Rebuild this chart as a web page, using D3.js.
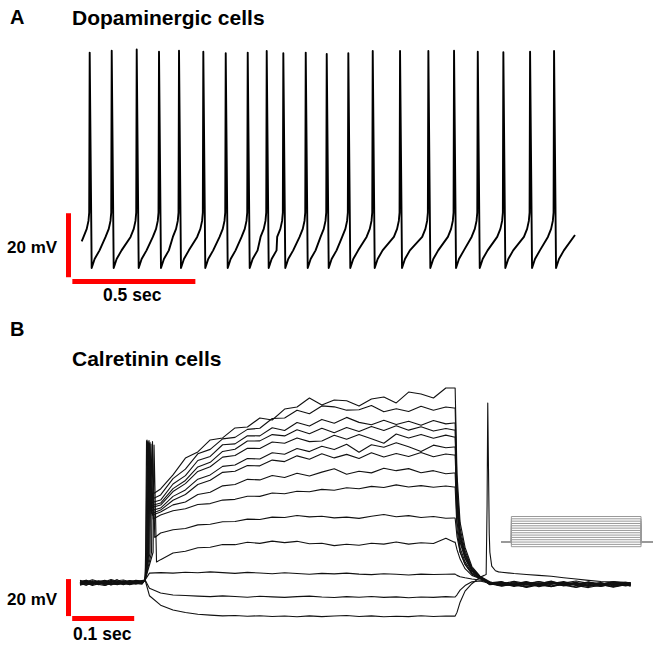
<!DOCTYPE html>
<html>
<head>
<meta charset="utf-8">
<script src="https://cdn.jsdelivr.net/npm/d3@7"></script>
<style>
  body { margin: 0; background: #fff; }
  svg { display: block; }
  text { font-family: "Liberation Sans", Arial, sans-serif; font-weight: bold; fill: #000; }
</style>
</head>
<body>
<svg id="fig" width="661" height="648"></svg>
<script>
// ---------- panel A: dopaminergic cell, spontaneous firing ----------
const spikeTimesA = [32.5, 122.0, 223.6, 314.2, 395.5, 494.3, 585.4, 674.8, 752.0, 819.5, 910.6,
  995.9, 1083.7, 1182.9, 1293.9, 1409.0, 1513.4, 1609.8, 1713.8, 1822.4, 1919.9];   // ms
const spikePeaksA = [2.0, 2.6, 3.0, 2.3, 2.6, 2.3, 1.8, 2.0, 2.5, 1.8, 2.0,
  1.6, 1.8, 2.5, 2.5, 2.5, 2.6, 2.3, 2.1, 2.3, 2.5];                                // mV
// waveform, relative to each spike peak (ms, mV)
const afterSpikeA = [[8, -65.3], [20, -62.5], [40, -59.8]];
const beforeSpikeA = [[-25, -55.6], [-12, -53.1], [-5, -50.6], [-2, -48.0]];
const traceStartA = [0, -57.0];
const traceEndA = [2005, -55.0];

// ---------- panel B: calretinin cell, current steps ----------
const preTimes = [0, 10, 20, 30, 40, 50, 60, 70, 80, 90, 100];
const preTraces = [
  [-70.2, -71.5, -70.8, -72.1, -70.5, -71.2, -69.8, -71.6, -70.4, -71.0, -70.3],
  [-71.8, -70.6, -72.3, -71.0, -71.9, -70.2, -71.4, -72.0, -70.9, -71.7, -70.8],
  [-72.5, -71.3, -71.9, -70.7, -72.4, -71.6, -72.2, -70.8, -71.5, -70.6, -71.2],
  [-70.9, -72.2, -71.1, -71.8, -70.3, -72.0, -70.9, -71.3, -72.1, -70.9, -71.6],
  [-71.4, -70.1, -71.7, -70.6, -71.5, -70.8, -71.9, -70.5, -71.2, -71.8, -70.7],
  [-72.8, -71.9, -72.6, -71.4, -72.9, -71.8, -72.3, -71.5, -72.4, -71.3, -71.9],
  [-70.5, -71.0, -69.9, -70.8, -70.1, -71.3, -70.4, -70.0, -70.9, -70.2, -70.6],
  [-71.6, -72.7, -71.2, -72.3, -71.8, -72.5, -71.1, -72.2, -71.4, -72.0, -71.3],
  [-72.1, -70.8, -71.5, -72.6, -71.0, -71.7, -72.4, -71.1, -71.9, -70.7, -71.5],
  [-71.0, -71.8, -70.4, -71.2, -71.9, -70.6, -71.3, -72.0, -70.8, -71.4, -70.9],
  [-72.3, -71.6, -72.9, -72.0, -71.3, -72.7, -71.8, -72.5, -71.6, -72.2, -71.4],
  [-70.8, -70.2, -71.3, -70.5, -70.9, -69.8, -70.7, -71.2, -70.3, -70.9, -70.5],
  [-71.9, -72.8, -71.5, -72.4, -72.9, -71.7, -72.6, -71.8, -72.5, -71.9, -72.3],
  [-71.2, -70.4, -71.8, -70.9, -71.5, -70.6, -71.9, -71.0, -70.7, -71.4, -71.1]
];
const onsetT = 105, onsetV = -70;
// first spike at step onset (depolarised traces only)
const onsetSpikeT = [107.3, 108.1, 108.9, 109.7, 110.5, 111.3, 112.1, 112.9, 114.5, 116.9, 119.4];
const onsetSpikePeak = [5.2, 5.7, 4.6, 5.0, 4.1, 5.4, 3.8, 4.4, 3.5, 4.9, 3.0];
const onsetTroughT = [110.8, 111.6, 112.4, 113.2, 114.0, 114.8, 115.6, 116.4, 118.0, 120.6, 123.4];
const onsetTrough = [-25, -27, -28.5, -30, -31, -32.5, -34, -35, -37, -47, -60.3];
const hyperEarlyT = 112;
const hyperEarly = [-66.3, -74.5, -78.5];

const stepTimes = [130, 150, 170, 190, 210, 230, 250, 270, 290, 310, 330, 350, 370, 390,
  410, 430, 450, 470, 490, 510, 530, 550, 570, 590, 603];
const stepTraces = [
  [-20.8, -13.2, -4.1, -0.8, 5.7, 6.8, 12.2, 12.7, 17.6, 16.5, 22.4, 23.5, 28.4, 24.6, 27.3, 26.9, 24.0, 27.8, 28.9, 25.7, 31.6, 30.5, 28.4, 33.8, 33.8],
  [-24.0, -15.2, -10.1, -1.8, 0.6, 6.3, 7.1, 11.4, 12.0, 17.3, 17.6, 21.8, 19.9, 24.1, 23.6, 21.8, 22.0, 24.3, 20.9, 22.6, 21.1, 23.9, 21.8, 23.5, 23.0],
  [-26.8, -18.1, -13.6, -5.4, -3.2, 3.1, 3.6, 8.0, 7.9, 12.3, 10.8, 15.1, 13.2, 16.8, 14.7, 17.9, 15.2, 13.9, 16.3, 14.1, 15.8, 13.6, 16.2, 14.4, 14.9],
  [-28.4, -20.6, -16.2, -8.9, -6.4, -0.5, 0.7, 5.1, 5.2, 8.6, 7.9, 11.2, 9.1, 12.0, 9.6, 12.4, 10.3, 13.0, 10.8, 13.4, 11.0, 12.8, 10.5, 11.9, 11.1],
  [-29.5, -22.2, -17.9, -11.3, -8.8, -3.6, -2.7, 1.2, 1.1, 4.6, 3.9, 6.8, 4.8, 5.1, 8.2, 6.1, 8.6, 6.4, 3.9, 8.9, 6.8, 8.7, 6.6, 8.3, 7.3],
  [-31.1, -24.8, -21.3, -15.5, -13.2, -8.6, -7.8, -4.3, -4.6, -1.2, -2.0, 1.1, -0.6, 2.3, 0.5, 3.4, -0.9, 3.1, 1.8, 4.2, 2.0, -0.5, 2.9, 1.5, 1.9],
  [-32.2, -26.9, -23.8, -18.4, -16.1, -11.8, -11.2, -8.1, -8.3, -5.2, -6.0, -2.9, -4.7, -1.8, -4.0, -2.1, -4.3, -1.2, -3.5, -1.6, -3.2, -1.1, -3.4, -1.9, -2.4],
  [-33.2, -29.4, -27.8, -23.8, -22.6, -19.1, -18.4, -15.6, -15.9, -13.5, -14.6, -12.3, -13.8, -11.7, -9.9, -12.8, -11.2, -12.1, -9.6, -10.9, -9.8, -12.0, -10.9, -12.6, -12.2],
  [-34.9, -32.6, -31.5, -29.2, -28.7, -26.8, -26.4, -24.7, -24.8, -23.0, -23.4, -22.0, -22.3, -21.0, -21.5, -20.1, -20.7, -19.4, -20.0, -18.6, -19.7, -19.0, -19.9, -19.2, -19.7],
  [-44.6, -42.8, -42.2, -40.2, -39.9, -38.5, -38.4, -37.1, -37.3, -36.0, -36.2, -35.1, -35.9, -35.5, -36.4, -36.0, -36.7, -35.5, -34.6, -35.8, -35.2, -36.2, -35.7, -36.6, -36.5],
  [-59.0, -55.4, -54.5, -52.6, -52.3, -50.8, -50.9, -49.6, -50.2, -49.0, -49.8, -49.1, -50.4, -50.1, -51.4, -50.7, -51.2, -50.1, -50.6, -49.5, -50.6, -49.9, -50.3, -47.4, -49.5],
  [-66.0, -66.3, -65.8, -66.1, -65.6, -66.0, -66.4, -65.9, -66.2, -66.6, -66.1, -66.5, -66.9, -66.4, -66.7, -66.3, -66.8, -67.1, -66.6, -66.9, -67.3, -66.8, -67.0, -66.9, -66.8],
  [-77.0, -78.1, -78.4, -78.7, -79.0, -78.6, -78.9, -79.3, -78.8, -79.1, -79.4, -79.0, -78.7, -79.2, -79.5, -79.0, -79.3, -78.9, -79.4, -79.1, -79.6, -79.2, -79.4, -79.0, -79.2],
  [-83.6, -86.2, -87.6, -88.5, -89.0, -89.4, -89.2, -89.6, -89.3, -89.7, -89.5, -89.9, -89.4, -89.8, -89.5, -89.2, -89.7, -89.4, -89.9, -89.6, -89.8, -89.3, -89.7, -89.5, -89.5]
];

const decayTimes = [605, 608, 613, 621, 632, 645];
const decayTraces = [
  [33.8, -12.9, -38.9, -52.4, -62.7, -67.9],
  [23.0, -18.9, -42.1, -54.2, -63.5, -68.1],
  [14.9, -23.3, -44.5, -55.6, -64.1, -68.3],
  [11.1, -25.4, -45.7, -56.2, -64.3, -68.4],
  [7.3, -27.5, -46.8, -56.9, -64.6, -68.5],
  [1.9, -30.5, -48.4, -57.8, -65.0, -68.6],
  [-2.4, -32.8, -49.7, -58.5, -65.3, -68.6],
  [-12.2, -38.2, -52.7, -60.2, -66.0, -68.8],
  [-19.7, -42.3, -54.9, -61.4, -66.5, -69.0],
  [-36.5, -46.6, -54.9, -61.6, -66.7, -69.0],
  [-49.5, -53.6, -58.7, -63.9, -67.5, -69.2],
  [-66.8, -67.5, -68.2, -68.8, -69.5, -70.0],
  [-79.2, -78.0, -75.5, -73.0, -71.0, -70.5],
  [-89.5, -87.5, -82.0, -76.0, -72.0, -68.5]
];
// rebound spike after the strongest hyperpolarising step
const reboundTrace = 13;
const reboundSpike = [[652, -67.5], [655, -67.0], [656.5, -30], [657.6, 25.7], [658.8, -10],
  [660, -45], [664, -62.5], [670, -65.0], [675, -65.6]];

const postTimes = [661, 680, 700, 720, 740, 760, 780, 800, 820, 840, 860, 880, 888];
const postTraces = [
  [-71.0, -72.8, -71.5, -73.4, -72.0, -70.6, -72.9, -71.7, -73.5, -72.2, -71.0, -72.6, -72.0],
  [-71.5, -70.9, -72.6, -71.3, -73.1, -71.9, -70.8, -72.4, -71.6, -73.0, -72.1, -71.2, -71.8],
  [-72.0, -73.4, -72.1, -74.0, -72.7, -73.6, -72.2, -73.8, -72.5, -71.4, -73.2, -72.8, -73.1],
  [-71.3, -72.0, -70.7, -71.9, -70.9, -72.3, -71.6, -70.5, -71.8, -72.6, -71.2, -72.4, -71.7],
  [-72.4, -71.2, -73.0, -72.2, -71.5, -73.3, -71.8, -72.9, -74.1, -72.7, -73.5, -72.1, -72.6],
  [-71.8, -73.1, -72.4, -70.9, -72.6, -71.4, -73.2, -72.0, -71.1, -72.8, -71.6, -73.0, -72.3],
  [-72.2, -71.0, -72.9, -71.7, -73.6, -72.3, -71.2, -72.7, -73.4, -71.9, -72.5, -71.4, -72.0],
  [-71.5, -72.5, -71.0, -72.8, -71.9, -70.8, -72.1, -71.3, -72.9, -73.5, -72.0, -73.2, -72.7],
  [-72.6, -71.8, -73.5, -72.1, -73.0, -71.6, -72.8, -74.0, -72.6, -71.5, -72.9, -71.7, -72.4],
  [-71.9, -73.0, -71.6, -72.4, -70.8, -72.0, -71.3, -72.6, -71.1, -72.3, -70.9, -71.8, -71.4],
  [-72.3, -71.4, -72.8, -73.7, -72.0, -73.4, -72.5, -71.6, -73.1, -72.4, -73.9, -72.6, -73.3],
  [-71.2, -72.2, -73.1, -71.8, -72.5, -71.1, -73.0, -72.2, -71.4, -73.3, -72.1, -72.9, -72.5],
  [-71.8, -72.9, -72.0, -70.9, -72.3, -73.5, -71.9, -72.6, -71.2, -72.0, -73.6, -72.3, -72.8],
  [-55.0, -65.8, -66.5, -67.0, -67.5, -68.0, -68.8, -69.5, -70.2, -70.8, -71.0, -71.3, -71.5]
];

// stimulus protocol inset (pA, ms)
const stimCurrents = [-20, -10, 0, 10, 20, 30, 40, 50, 60, 70, 80, 90, 100, 110];
const stimTimes = [0, 40, 540, 585];

// ---------- drawing ----------
const svg = d3.select('#fig');

// panel A
const xA = d3.scaleLinear().domain([0, 2005]).range([81.7, 575]);
const yA = d3.scaleLinear().domain([-65, 2.5]).range([267, 51]);

const ptsA = [traceStartA];
spikeTimesA.forEach((ts, i) => {
    beforeSpikeA.forEach(([dt, v]) => {
        const prev = i > 0 ? spikeTimesA[i - 1] + afterSpikeA[afterSpikeA.length - 1][0] : 0;
        if (ts + dt > prev) ptsA.push([ts + dt, v]);
    });
    ptsA.push([ts, spikePeaksA[i]]);
    afterSpikeA.forEach(([dt, v]) => ptsA.push([ts + dt, v]));
});
ptsA.push(traceEndA);

const lineA = d3.line().x(d => xA(d[0])).y(d => yA(d[1]));
svg.append('path')
    .attr('d', lineA(ptsA))
    .attr('fill', 'none')
    .attr('stroke', '#000')
    .attr('stroke-width', 1.9)
    .attr('stroke-linejoin', 'round');

// scale bars A
const barA = {v0: -68.2, t0: -38};
svg.append('rect')
    .attr('x', 66).attr('width', 5)
    .attr('y', yA(barA.v0 + 20)).attr('height', yA(barA.v0) - yA(barA.v0 + 20))
    .attr('fill', '#ff0000');
svg.append('rect')
    .attr('x', xA(barA.t0)).attr('width', xA(barA.t0 + 500) - xA(barA.t0))
    .attr('y', 279).attr('height', 5)
    .attr('fill', '#ff0000');
svg.append('text').attr('x', 7).attr('y', 253).attr('font-size', 17).text('20 mV');
svg.append('text').attr('x', 103).attr('y', 301).attr('font-size', 17.5).text('0.5 sec');

svg.append('text').attr('x', 10).attr('y', 24).attr('font-size', 20).text('A');
svg.append('text').attr('x', 72).attr('y', 25).attr('font-size', 21).text('Dopaminergic cells');

// panel B
const xB = d3.scaleLinear().domain([0, 887]).range([80, 630]);
const yB = d3.scaleLinear().domain([-70, 30]).range([580, 395]);

function buildTrace(i) {
    const pts = [];
    preTimes.forEach((t, j) => pts.push([t, preTraces[i][j]]));
    pts.push([onsetT, onsetV]);
    if (i < onsetSpikeT.length) {
        pts.push([onsetSpikeT[i] - 1.5, -55]);
        pts.push([onsetSpikeT[i], onsetSpikePeak[i]]);
        pts.push([onsetTroughT[i], onsetTrough[i]]);
    } else {
        pts.push([hyperEarlyT, hyperEarly[i - onsetSpikeT.length]]);
    }
    stepTimes.forEach((t, j) => pts.push([t, stepTraces[i][j]]));
    decayTimes.forEach((t, j) => pts.push([t, decayTraces[i][j]]));
    if (i === reboundTrace) reboundSpike.forEach(p => pts.push(p));
    postTimes.forEach((t, j) => pts.push([t, postTraces[i][j]]));
    return pts.sort((a, b) => a[0] - b[0]);
}

const lineB = d3.line().x(d => xB(d[0])).y(d => yB(d[1]));
svg.append('g').selectAll('path')
    .data(d3.range(stepTraces.length).map(buildTrace))
    .join('path')
    .attr('d', lineB)
    .attr('fill', 'none')
    .attr('stroke', '#111')
    .attr('stroke-width', 1.1)
    .attr('stroke-linejoin', 'round');

// stimulus inset
const xS = d3.scaleLinear().domain([0, 585]).range([501, 652.7]);
const yS = d3.scaleLinear().domain([-20, 110]).range([546.7, 516.5]);
const lineS = d3.line().x(d => xS(d[0])).y(d => yS(d[1]));
svg.append('g').selectAll('path')
    .data(stimCurrents)
    .join('path')
    .attr('d', c => lineS([
        [stimTimes[0], 0], [stimTimes[1], 0], [stimTimes[1], c],
        [stimTimes[2], c], [stimTimes[2], 0], [stimTimes[3], 0]]))
    .attr('fill', 'none')
    .attr('stroke', '#999')
    .attr('stroke-width', 1);

// scale bars B
const barB = {v0: -89.5, t0: -12.6};
svg.append('rect')
    .attr('x', 66).attr('width', 5)
    .attr('y', yB(barB.v0 + 20)).attr('height', yB(barB.v0) - yB(barB.v0 + 20))
    .attr('fill', '#ff0000');
svg.append('rect')
    .attr('x', xB(barB.t0)).attr('width', xB(barB.t0 + 100) - xB(barB.t0))
    .attr('y', 616).attr('height', 5)
    .attr('fill', '#ff0000');
svg.append('text').attr('x', 7).attr('y', 605).attr('font-size', 17).text('20 mV');
svg.append('text').attr('x', 73).attr('y', 640).attr('font-size', 17.5).text('0.1 sec');

svg.append('text').attr('x', 10).attr('y', 336).attr('font-size', 20).text('B');
svg.append('text').attr('x', 72).attr('y', 366).attr('font-size', 21).text('Calretinin cells');
</script>
</body>
</html>
